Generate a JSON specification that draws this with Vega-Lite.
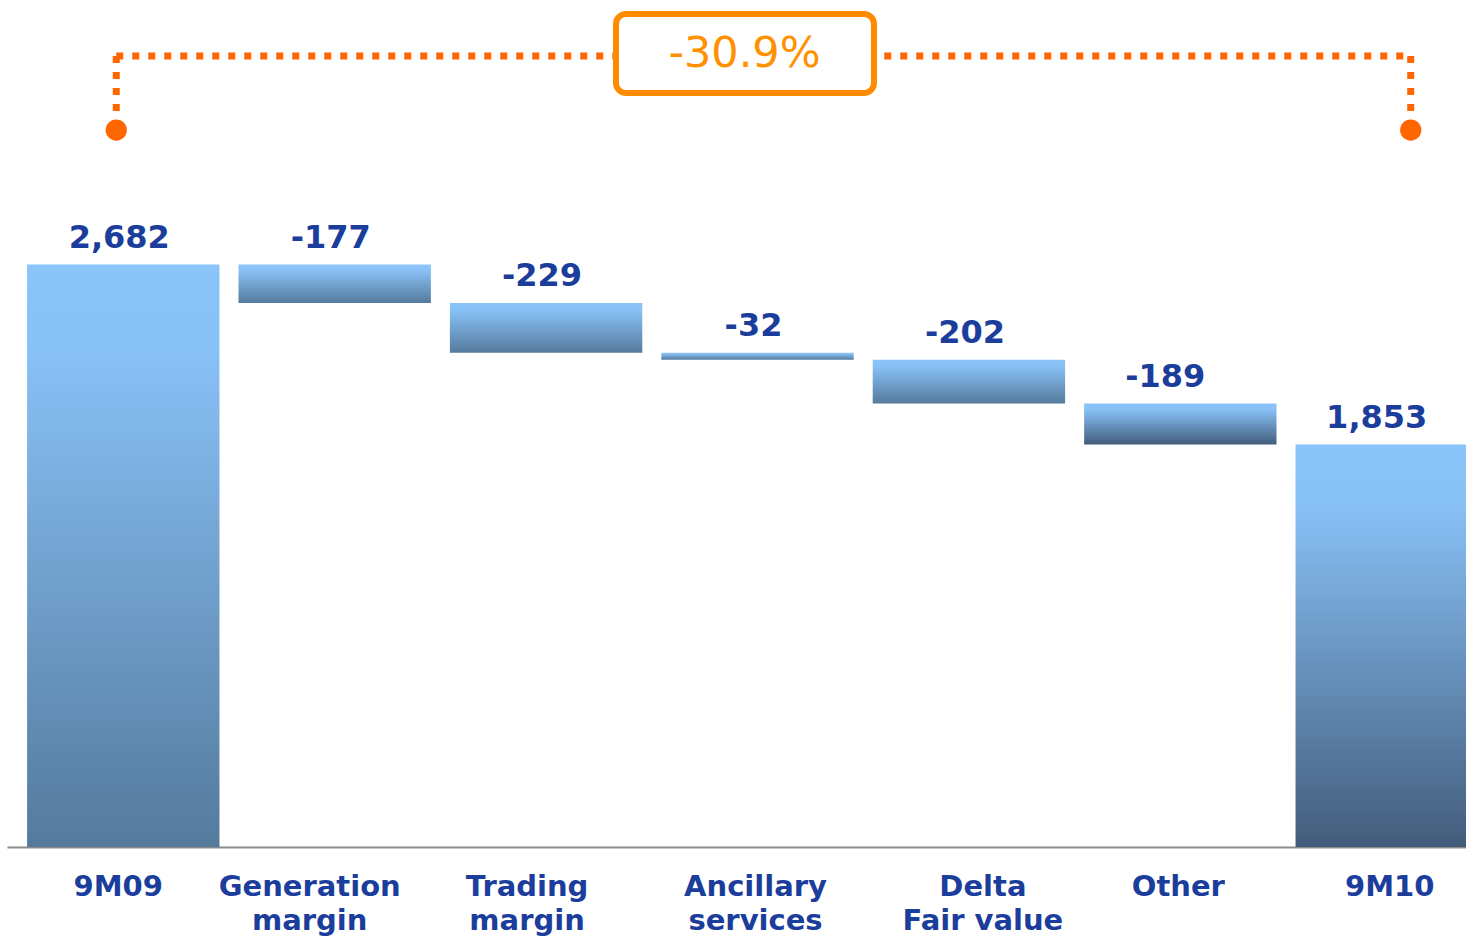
{
  "$schema": "https://vega.github.io/schema/vega-lite/v6.json",
  "width": 1501,
  "height": 847,
  "autosize": {"type": "none"},
  "padding": {"left": 7, "top": 0, "right": 0, "bottom": 91},
  "background": "white",
  "config": {"view": {"stroke": null}},
  "datasets": {
    "bars": [
      {"cat": "9M09", "high": 2682, "low": 0, "label": "2,682", "grp": "A"},
      {"cat": "Generation margin", "high": 2682, "low": 2505, "label": "-177", "grp": "A"},
      {"cat": "Trading margin", "high": 2505, "low": 2276, "label": "-229", "grp": "A"},
      {"cat": "Ancillary services", "high": 2276, "low": 2244, "label": "-32", "grp": "A"},
      {"cat": "Delta Fair value", "high": 2244, "low": 2042, "label": "-202", "grp": "A"},
      {"cat": "Other", "high": 2042, "low": 1853, "label": "-189", "grp": "B"},
      {"cat": "9M10", "high": 1853, "low": 0, "label": "1,853", "grp": "B"}
    ]
  },
  "encoding": {
    "x": {
      "field": "cat",
      "type": "nominal",
      "sort": null,
      "scale": {
        "domain": ["9M09", "Generation margin", "Trading margin", "Ancillary services", "Delta Fair value", "Other", "9M10"],
        "paddingInner": 0.09,
        "paddingOuter": 0.095
      },
      "axis": {
        "title": null,
        "orient": "bottom",
        "domain": true,
        "domainColor": "#8a8a8a",
        "domainWidth": 2,
        "ticks": false,
        "grid": false,
        "labelAngle": 0,
        "labelFont": "DejaVu Sans",
        "labelFontWeight": "bold",
        "labelFontSize": 29,
        "labelColor": "#1B3D9B",
        "labelPadding": 25,
        "labelLineHeight": 34,
        "labelBaseline": "top",
        "labelLimit": 0,
        "labelExpr": "datum.value == 'Delta Fair value' ? ['Delta', 'Fair value'] : split(datum.value, ' ')",
        "labelOffset": {
          "condition": [
            {"test": "datum.value == 'Generation margin'", "value": -25},
            {"test": "datum.value == 'Trading margin'", "value": -19},
            {"test": "datum.value == 'Delta Fair value'", "value": 14},
            {"test": "datum.value == '9M09'", "value": -5}
          ],
          "value": -2
        }
      }
    }
  },
  "layer": [
    {
      "data": {"name": "bars"},
      "transform": [{"filter": "datum.grp == 'A'"}],
      "mark": {
        "type": "bar",
        "color": {
          "gradient": "linear", "x1": 0, "y1": 0, "x2": 0, "y2": 1,
          "stops": [{"offset": 0, "color": "#8AC4FA"}, {"offset": 0.15, "color": "#88C1F6"}, {"offset": 1, "color": "#557A9C"}]
        }
      },
      "encoding": {
        "y": {"field": "high", "type": "quantitative", "scale": {"domain": [0, 3900], "nice": false, "zero": true}, "axis": null},
        "y2": {"field": "low"}
      }
    },
    {
      "data": {"name": "bars"},
      "transform": [{"filter": "datum.grp == 'B'"}],
      "mark": {
        "type": "bar",
        "color": {
          "gradient": "linear", "x1": 0, "y1": 0, "x2": 0, "y2": 1,
          "stops": [{"offset": 0, "color": "#8AC4FA"}, {"offset": 0.15, "color": "#88C1F6"}, {"offset": 1, "color": "#435C7B"}]
        }
      },
      "encoding": {
        "y": {"field": "high", "type": "quantitative", "scale": {"domain": [0, 3900], "nice": false, "zero": true}, "axis": null},
        "y2": {"field": "low"}
      }
    },
    {
      "data": {"name": "bars"},
      "transform": [{"filter": "datum.grp == 'A'"}],
      "mark": {"type": "text", "font": "DejaVu Sans", "fontWeight": "bold", "fontSize": 32, "color": "#1B3D9B", "baseline": "alphabetic", "dy": -17, "dx": -4},
      "encoding": {
        "y": {"field": "high", "type": "quantitative", "scale": {"domain": [0, 3900], "nice": false, "zero": true}, "axis": null},
        "text": {"field": "label"}
      }
    },
    {
      "data": {"name": "bars"},
      "transform": [{"filter": "datum.grp == 'B'"}],
      "mark": {"type": "text", "font": "DejaVu Sans", "fontWeight": "bold", "fontSize": 32, "color": "#1B3D9B", "baseline": "alphabetic", "dy": -17, "dx": -15},
      "encoding": {
        "y": {"field": "high", "type": "quantitative", "scale": {"domain": [0, 3900], "nice": false, "zero": true}, "axis": null},
        "text": {"field": "label"}
      }
    },
    {
      "data": {"values": [{"cat": "9M09", "cat2": "9M10", "level": 3642}]},
      "mark": {"type": "rule", "color": "#FF6600", "strokeWidth": 7, "strokeDash": [7, 9], "strokeCap": "butt", "xOffset": -7, "x2Offset": 19},
      "encoding": {
        "x2": {"field": "cat2"},
        "y": {"field": "level", "type": "quantitative", "scale": {"domain": [0, 3900], "nice": false, "zero": true}, "axis": null}
      }
    },
    {
      "data": {"values": [{"cat": "9M09", "top": 3642, "bottom": 3330}]},
      "mark": {"type": "rule", "color": "#FF6600", "strokeWidth": 7, "strokeDash": [7, 9], "strokeCap": "butt", "xOffset": -7},
      "encoding": {
        "y": {"field": "top", "type": "quantitative", "scale": {"domain": [0, 3900], "nice": false, "zero": true}, "axis": null},
        "y2": {"field": "bottom"}
      }
    },
    {
      "data": {"values": [{"cat": "9M10", "top": 3642, "bottom": 3330}]},
      "mark": {"type": "rule", "color": "#FF6600", "strokeWidth": 7, "strokeDash": [7, 9], "strokeCap": "butt", "xOffset": 19},
      "encoding": {
        "y": {"field": "top", "type": "quantitative", "scale": {"domain": [0, 3900], "nice": false, "zero": true}, "axis": null},
        "y2": {"field": "bottom"}
      }
    },
    {
      "data": {"values": [{"cat": "9M09", "level": 3301}]},
      "mark": {"type": "point", "shape": "circle", "filled": true, "size": 452, "color": "#FF6600", "opacity": 1, "xOffset": -7},
      "encoding": {
        "y": {"field": "level", "type": "quantitative", "scale": {"domain": [0, 3900], "nice": false, "zero": true}, "axis": null}
      }
    },
    {
      "data": {"values": [{"cat": "9M10", "level": 3301}]},
      "mark": {"type": "point", "shape": "circle", "filled": true, "size": 452, "color": "#FF6600", "opacity": 1, "xOffset": 19},
      "encoding": {
        "y": {"field": "level", "type": "quantitative", "scale": {"domain": [0, 3900], "nice": false, "zero": true}, "axis": null}
      }
    },
    {
      "data": {"values": [{"cat": "Ancillary services", "top": 3836, "bottom": 3472}]},
      "mark": {"type": "bar", "width": 258, "fill": "white", "stroke": "#FF8C00", "strokeWidth": 6, "cornerRadius": 10, "xOffset": -12.5},
      "encoding": {
        "y": {"field": "top", "type": "quantitative", "scale": {"domain": [0, 3900], "nice": false, "zero": true}, "axis": null},
        "y2": {"field": "bottom"}
      }
    },
    {
      "data": {"values": [{"cat": "Ancillary services", "level": 3651, "label": "-30.9%"}]},
      "mark": {"type": "text", "font": "DejaVu Sans", "fontSize": 43, "color": "#FF9000", "baseline": "middle", "align": "center", "xOffset": -13},
      "encoding": {
        "y": {"field": "level", "type": "quantitative", "scale": {"domain": [0, 3900], "nice": false, "zero": true}, "axis": null},
        "text": {"field": "label"}
      }
    }
  ]
}
